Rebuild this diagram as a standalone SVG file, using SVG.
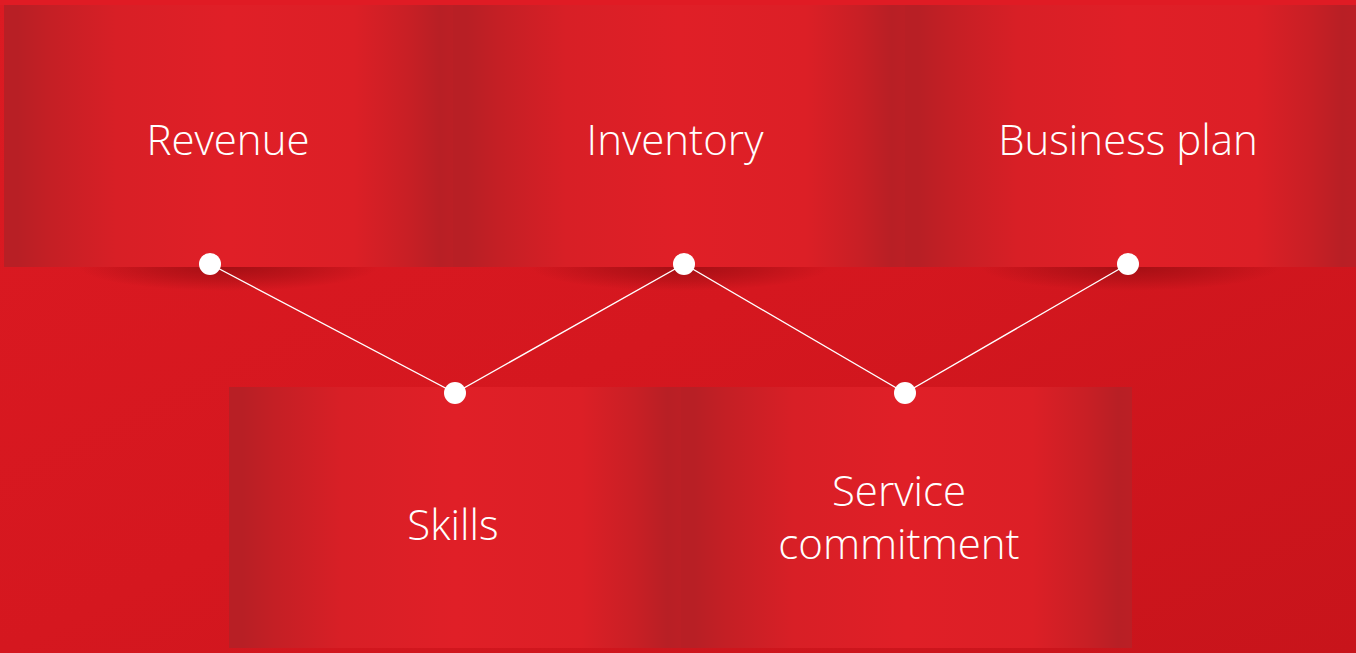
<svg xmlns="http://www.w3.org/2000/svg" width="1356" height="653" viewBox="0 0 1356 653">
<defs>
<linearGradient id="bg" x1="0" y1="0" x2="1" y2="1">
<stop offset="0" stop-color="#dc1a22"/>
<stop offset="0.5" stop-color="#d5171f"/>
<stop offset="1" stop-color="#c8141b"/>
</linearGradient>
<linearGradient id="panel" x1="0" y1="0" x2="1" y2="0">
<stop offset="0" stop-color="#b81f25"/>
<stop offset="0.03" stop-color="#b81f25"/>
<stop offset="0.1" stop-color="#c41f25"/>
<stop offset="0.25" stop-color="#d81f26"/>
<stop offset="0.5" stop-color="#e01f27"/>
<stop offset="0.78" stop-color="#dc1f26"/>
<stop offset="0.9" stop-color="#c81f25"/>
<stop offset="0.97" stop-color="#b81f25"/>
<stop offset="1" stop-color="#bb1f25"/>
</linearGradient>
<radialGradient id="shadow" cx="0.5" cy="0.5" r="0.5">
<stop offset="0" stop-color="#a00e13" stop-opacity="0.9"/>
<stop offset="0.5" stop-color="#a00e13" stop-opacity="0.5"/>
<stop offset="1" stop-color="#a00e13" stop-opacity="0"/>
</radialGradient>
<clipPath id="below">
<rect x="0" y="267" width="1356" height="40"/>
</clipPath>
<style>
.lbl{font-family:"Open Sans","Liberation Sans",sans-serif;font-weight:300;font-size:42px;fill:#ffffff;text-anchor:middle}
.dot{fill:#ffffff}
.link{stroke:#ffffff;stroke-width:1.4;fill:none}
.shd{fill:url(#shadow)}
</style>
</defs>
<rect x="0" y="0" width="1356" height="653" fill="url(#bg)"/>
<rect x="0" y="0" width="1356" height="5" fill="#e01b24"/>

<g id="revenue">
<rect x="4" y="5" width="449" height="262" fill="url(#panel)"/>
<text class="lbl" x="228" y="155">Revenue</text>
</g>
<g id="inventory">
<rect x="453" y="5" width="452" height="262" fill="url(#panel)"/>
<text class="lbl" x="675" y="155">Inventory</text>
</g>
<g id="business-plan">
<rect x="905" y="5" width="451" height="262" fill="url(#panel)"/>
<text class="lbl" x="1128" y="155">Business plan</text>
</g>

<g id="shadows" clip-path="url(#below)">
<ellipse class="shd" cx="228" cy="267" rx="150" ry="24"/>
<ellipse class="shd" cx="680" cy="267" rx="150" ry="24"/>
<ellipse class="shd" cx="1130" cy="267" rx="150" ry="24"/>
</g>

<g id="skills">
<rect x="229" y="387" width="452" height="261" fill="url(#panel)"/>
<text class="lbl" x="453" y="540">Skills</text>
</g>
<g id="service-commitment">
<rect x="681" y="387" width="451" height="261" fill="url(#panel)"/>
<text class="lbl" x="899" y="506">Service</text>
<text class="lbl" x="899" y="559">commitment</text>
</g>

<g id="connectors">
<polyline class="link" points="210,264 455,393 684,264 905,393 1128,264"/>
<circle class="dot" cx="210" cy="264" r="11"/>
<circle class="dot" cx="684" cy="264" r="11"/>
<circle class="dot" cx="1128" cy="264" r="11"/>
<circle class="dot" cx="455" cy="393" r="11"/>
<circle class="dot" cx="905" cy="393" r="11"/>
</g>
</svg>
